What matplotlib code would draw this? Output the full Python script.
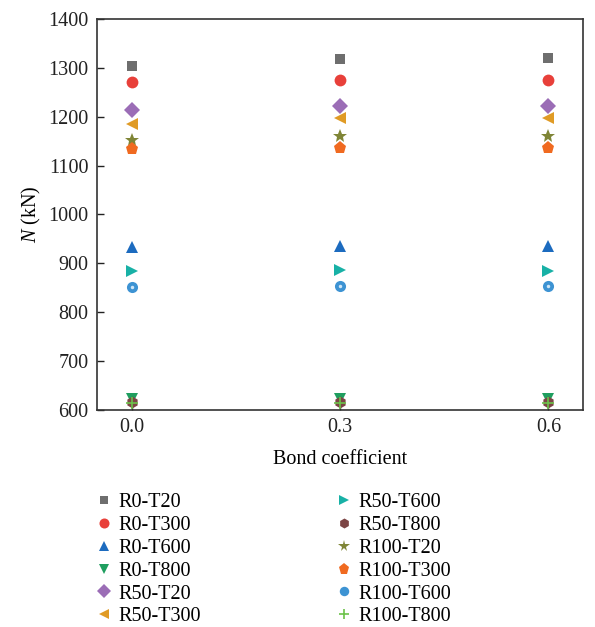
import numpy as np
import matplotlib
matplotlib.use("Agg")
import matplotlib.pyplot as plt

# 付着係数ごとの軸力 N (kN)
bond = [0.0, 0.3, 0.6]
labels = ["R0-T20", "R0-T300", "R0-T600", "R0-T800", "R50-T20", "R50-T300",
          "R50-T600", "R50-T800", "R100-T20", "R100-T300", "R100-T600", "R100-T800"]
r0_t20 = [1304, 1318, 1320]
r0_t300 = [1271, 1275, 1275]
r0_t600 = [934, 936, 936]
r0_t800 = [622, 622, 622]
r50_t20 = [1214, 1222, 1222]
r50_t300 = [1185, 1198, 1198]
r50_t600 = [885, 887, 885]
r50_t800 = [617, 617, 617]
r100_t20 = [1153, 1160, 1160]
r100_t300 = [1134, 1136, 1136]
r100_t600 = [852, 854, 854]
r100_t800 = [615, 615, 615]

series = [r0_t20, r0_t300, r0_t600, r0_t800, r50_t20, r50_t300,
          r50_t600, r50_t800, r100_t20, r100_t300, r100_t600, r100_t800]
markers = ["s", "o", "^", "v", "D", "<", ">", "h", "*", "p", "o", "+"]
colors = ["#6e6e6e", "#e8403a", "#1c6bbf", "#1f9e5f", "#9b6db6", "#e09b25",
          "#18b1a6", "#7c4545", "#7f8536", "#f06a20", "#3d93d3", "#6cc24a"]
sizes = [7.5, 8.5, 8.5, 8.5, 8, 8.5, 8.5, 8.5, 10, 9.5, 8, 9]

plt.rcParams["font.family"] = ["Liberation Serif", "DejaVu Serif"]
plt.rcParams["mathtext.fontset"] = "custom"
plt.rcParams["mathtext.it"] = "Liberation Serif:italic"
plt.rcParams["mathtext.rm"] = "Liberation Serif"

fig = plt.figure(figsize=(5.95, 6.27), dpi=100)
ax = fig.add_axes([0.163, 0.346, 0.817, 0.624])

handles = []
for lab, ys, m, c, s in zip(labels, series, markers, colors, sizes):
    h, = ax.plot(bond, ys, linestyle="none", marker=m, color=c, markersize=s,
                 markeredgewidth=1.2 if m == "+" else 0, label=lab)
    handles.append(h)
# R100-T600 の白抜き中心
ax.plot(bond, r100_t600, linestyle="none", marker="o", color="#cfe6f7",
        markersize=2.5, markeredgewidth=0)

ax.set_xlim(-0.05, 0.65)
ax.set_ylim(600, 1400)
ax.set_xticks(bond)
ax.set_xticklabels(["0.0", "0.3", "0.6"])
ax.set_yticks(np.arange(600, 1401, 100))
ax.tick_params(direction="in", labelsize=14.5, length=5, width=1, colors="#222222", pad=6)
for sp in ax.spines.values():
    sp.set_color("#333333")
    sp.set_linewidth(1.2)
ax.set_xlabel("Bond coefficient", fontsize=14.5, labelpad=9)
ax.set_ylabel(r"$N$ (kN)", fontsize=14.5, labelpad=4)

fig.legend(handles=handles, labels=labels, loc="upper left",
           bbox_to_anchor=(0.145, 0.227), ncol=2, frameon=False,
           fontsize=14.5, handletextpad=0.2, columnspacing=6.6,
           labelspacing=0.19, handlelength=1.0, markerscale=0.85,
           borderaxespad=0)

fig.savefig("out.png", dpi=100)
